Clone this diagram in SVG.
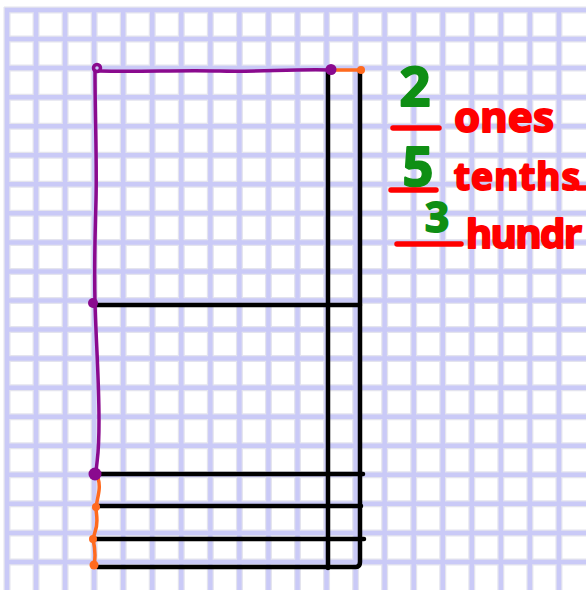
<svg xmlns="http://www.w3.org/2000/svg" width="586" height="590" viewBox="0 0 586 590">
<defs>
<style>
.halo{stroke:#e4e4ee;stroke-width:7;fill:none}
.grid{stroke:#cacaf7;stroke-width:4.5;fill:none}
.blk{stroke:#000;stroke-width:4.5;fill:none;stroke-linecap:round;stroke-linejoin:round}
.pur{stroke:#8a0a8e;stroke-width:3.5;fill:none;stroke-linecap:round;stroke-linejoin:round}
.org{stroke:#ff6a1e;stroke-width:3.5;fill:none;stroke-linecap:round;stroke-linejoin:round}
.red{stroke:#ff0000;stroke-width:5.5;fill:none;stroke-linecap:round}
.dig{font-family:"Noto Sans","DejaVu Sans",sans-serif;font-weight:bold;fill:#0f8f14;stroke:#0f8f14;stroke-width:2;stroke-linejoin:round;text-anchor:middle}
.word{font-family:"Noto Sans","DejaVu Sans",sans-serif;font-weight:bold;fill:#ff0000;stroke:#ff0000;stroke-width:2;stroke-linejoin:round}
</style>
</defs>
<rect width="586" height="590" fill="#ffffff"/>
<g id="grid-paper">
<path class="halo" d="M7 7V590M36.05 7V590M65.1 7V590M94.15 7V590M123.2 7V590M152.25 7V590M181.3 7V590M210.35 7V590M239.4 7V590M268.45 7V590M297.5 7V590M326.55 7V590M355.6 7V590M384.65 7V590M413.7 7V590M442.75 7V590M471.8 7V590M500.85 7V590M529.9 7V590M558.95 7V590M4 10H586M4 39.05H586M4 68.1H586M4 97.15H586M4 126.2H586M4 155.25H586M4 184.3H586M4 213.35H586M4 242.4H586M4 271.45H586M4 300.5H586M4 329.55H586M4 358.6H586M4 387.65H586M4 416.7H586M4 445.75H586M4 474.8H586M4 503.85H586M4 532.9H586M4 561.95H586"/>
<path class="grid" d="M7 8V590M36.05 8V590M65.1 8V590M94.15 8V590M123.2 8V590M152.25 8V590M181.3 8V590M210.35 8V590M239.4 8V590M268.45 8V590M297.5 8V590M326.55 8V590M355.6 8V590M384.65 8V590M413.7 8V590M442.75 8V590M471.8 8V590M500.85 8V590M529.9 8V590M558.95 8V590M5 10H586M5 39.05H586M5 68.1H586M5 97.15H586M5 126.2H586M5 155.25H586M5 184.3H586M5 213.35H586M5 242.4H586M5 271.45H586M5 300.5H586M5 329.55H586M5 358.6H586M5 387.65H586M5 416.7H586M5 445.75H586M5 474.8H586M5 503.85H586M5 532.9H586M5 561.95H586"/>
</g>
<g id="connectors">
<path class="blk" d="M328 70V568"/>
<path class="blk" d="M360 71V562Q360 567 356 567H97"/>
<path class="blk" d="M93 305H360"/>
<path class="blk" d="M97 474H363"/>
<path class="blk" d="M98 506H361"/>
<path class="blk" d="M93 539H364"/>
<path class="pur" d="M100 71C140 72 180 70 220 71S290 69 331 70"/>
<path class="pur" d="M95 71C95 120 97 160 96 200S94 260 95 303C96 340 99 380 99 420S97 455 96 474"/>
<path class="org" d="M331 70H361"/>
<path class="org" d="M98 478C101 488 98 495 96 507C96 515 99 522 95 532L93 539C95 548 96 556 94 565"/>
</g>
<g id="dots">
<circle cx="97" cy="68" r="3.5" fill="none" stroke="#8a0a8e" stroke-width="3.5"/>
<circle cx="331" cy="69.5" r="5.5" fill="#8a0a8e"/>
<circle cx="93" cy="303" r="5" fill="#8a0a8e"/>
<circle cx="95" cy="474" r="6.5" fill="#8a0a8e"/>
<circle cx="361" cy="70" r="4" fill="#ff6a1e"/>
<circle cx="96" cy="507" r="4" fill="#ff6a1e"/>
<circle cx="93" cy="539" r="4" fill="#ff6a1e"/>
<circle cx="94" cy="565" r="4.5" fill="#ff6a1e"/>
</g>
<g id="ones-row">
<text class="dig" x="415" y="106" font-size="54">2</text>
<path class="red" d="M393 128H439"/>
<text class="word" x="454" y="132" font-size="42" textLength="100" lengthAdjust="spacing">ones</text>
</g>
<g id="tenths-row">
<text class="dig" x="418" y="186" font-size="54">5</text>
<path class="red" d="M391 190H436"/>
<text class="word" x="454" y="190" font-size="37" textLength="126" lengthAdjust="spacing">tenths</text>
<path class="red" d="M578 188H590"/>
</g>
<g id="hundredths-row">
<text class="dig" x="437" y="232" font-size="42">3</text>
<path class="red" d="M397 244H461"/>
<text class="word" x="466" y="248" font-size="40" textLength="116" lengthAdjust="spacing">hundr</text>
</g>
</svg>
